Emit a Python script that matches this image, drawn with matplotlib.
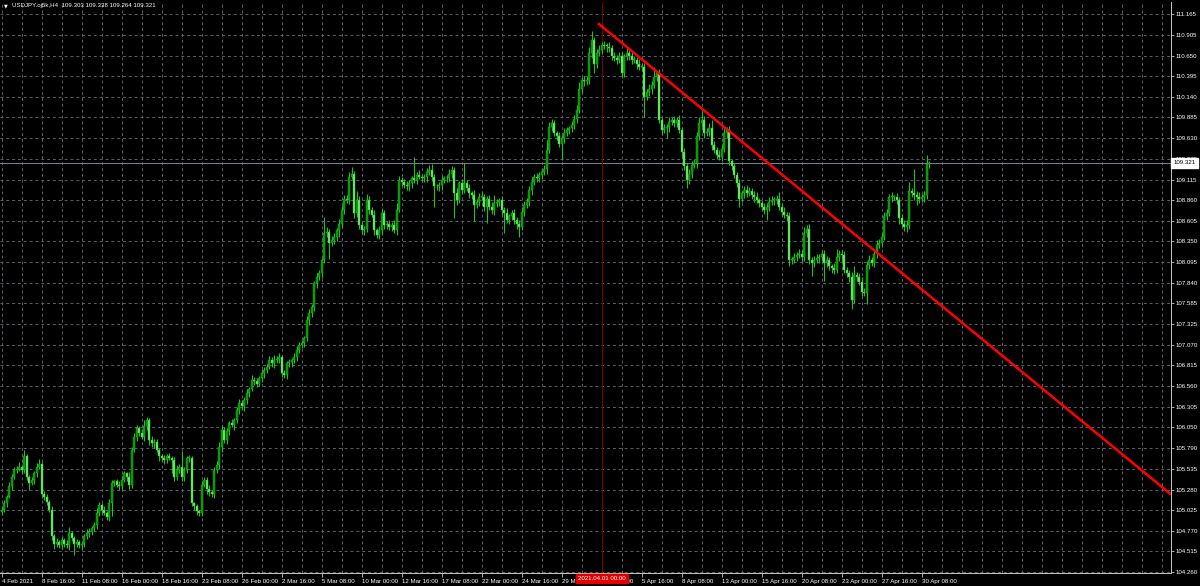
import numpy as np
import matplotlib
matplotlib.use("Agg")
import matplotlib.pyplot as plt
from matplotlib.transforms import blended_transform_factory

# ---- data (USDJPY H4, 4 Feb - 30 Apr 2021) ----
title_text = "USDJPY.oj5k,H4  109.303 109.338 109.264 109.321"
first_open = 105.00

closes_feb = [
    105.03, 105.11, 105.19, 105.32, 105.44, 105.52,
    105.54, 105.56, 105.52, 105.69, 105.44, 105.36,
    105.40, 105.48, 105.56, 105.60, 105.23, 105.19,
    105.13, 105.03, 104.70, 104.61, 104.63, 104.59,
    104.66, 104.61, 104.59, 104.74, 104.68, 104.61,
    104.63, 104.59, 104.61, 104.70, 104.74, 104.76,
    104.80, 104.84, 104.99, 105.09, 105.03, 104.99,
    104.94, 105.11, 105.36, 105.38, 105.34, 105.32,
    105.40, 105.48, 105.44, 105.34, 105.77, 105.93,
    106.04, 105.98, 105.93, 106.06, 106.14, 105.89,
    105.85, 105.87, 105.77, 105.69, 105.67, 105.65,
    105.69, 105.67, 105.65, 105.44, 105.52, 105.56,
    105.44, 105.52, 105.67, 105.67, 105.11, 105.07,
    105.01, 104.99, 105.34, 105.40, 105.29, 105.25,
    105.23, 105.52, 105.58, 105.81, 106.02, 105.89,
    106.00, 106.10, 106.08, 106.14, 106.26, 106.35,
    106.31, 106.39, 106.47, 106.53, 106.64, 106.62,
]
closes_mar = [
    106.59, 106.66, 106.72, 106.76, 106.80, 106.88,
    106.84, 106.88, 106.90, 106.92, 106.72, 106.70,
    106.84, 106.86, 106.88, 106.92, 107.01, 107.07,
    107.09, 107.15, 107.38, 107.46, 107.54, 107.83,
    107.91, 107.96, 108.12, 108.45, 108.47, 108.33,
    108.37, 108.41, 108.49, 108.57, 108.74, 108.88,
    108.86, 109.15, 109.19, 108.70, 108.86, 108.55,
    108.49, 108.51, 108.86, 108.74, 108.68, 108.49,
    108.43, 108.49, 108.70, 108.55, 108.57, 108.53,
    108.55, 108.49, 108.74, 109.11, 109.09, 109.05,
    109.03, 109.07, 109.13, 109.11, 109.17, 109.15,
    109.13, 109.15, 109.21, 109.23, 109.15, 109.03,
    109.03, 109.05, 109.11, 109.13, 109.13, 109.19,
    109.23, 108.95, 108.86, 109.07, 108.99, 109.07,
    109.01, 108.95, 108.93, 108.80, 108.84, 108.90,
    108.90, 108.78, 108.88, 108.78, 108.74, 108.82,
    108.84, 108.86, 108.74, 108.70, 108.62, 108.66,
    108.70, 108.62, 108.57, 108.53, 108.72, 108.80,
    108.84, 108.99, 109.09, 109.15, 109.13, 109.17,
    109.21, 109.25, 109.48, 109.77, 109.81, 109.69,
    109.65, 109.56, 109.63, 109.69, 109.73, 109.75,
    109.79, 109.87, 109.98, 110.24, 110.35, 110.33,
    110.35, 110.68, 110.84, 110.55, 110.68, 110.72,
]
closes_apr = [
    110.78, 110.77, 110.76, 110.74, 110.64, 110.62,
    110.60, 110.64, 110.43, 110.64, 110.68, 110.64,
    110.60, 110.60, 110.55, 110.51, 110.51, 110.14,
    110.20, 110.24, 110.29, 110.39, 110.43, 109.85,
    109.73, 109.75, 109.77, 109.83, 109.85, 109.81,
    109.85, 109.73, 109.46, 109.28, 109.11, 109.19,
    109.30, 109.32, 109.65, 109.81, 109.85, 109.69,
    109.71, 109.75, 109.54, 109.48, 109.42, 109.40,
    109.50, 109.69, 109.73, 109.34, 109.28, 109.17,
    109.07, 108.88, 108.95, 108.99, 108.95, 108.97,
    108.92, 108.90, 108.86, 108.82, 108.78, 108.74,
    108.78, 108.84, 108.86, 108.86, 108.88, 108.78,
    108.72, 108.68, 108.66, 108.12, 108.12, 108.16,
    108.18, 108.20, 108.16, 108.45, 108.51, 108.12,
    108.08, 108.12, 108.14, 108.16, 108.20, 108.08,
    108.12, 108.04, 108.02, 108.00, 108.16, 108.20,
    108.18, 108.00, 107.96, 107.91, 107.63, 107.93,
    107.91, 107.85, 107.73, 107.71, 108.06, 108.12,
    108.08, 108.20, 108.31, 108.33, 108.41, 108.66,
    108.70, 108.90, 108.90, 108.90, 108.86, 108.64,
    108.57, 108.53, 108.55, 108.97, 108.95, 108.92,
    108.90, 108.88, 108.90, 108.92, 109.303, 109.321,
]

# wick lengths beyond the body, in hundredths of a yen
upper_wick = [
    3, 4, 2, 5, 3, 4,   3, 6, 2, 8, 3, 2,   4, 3, 5, 6, 2, 3,   3, 2, 4, 3, 5, 2,
    3, 2, 4, 8, 3, 2,   4, 3, 2, 3, 5, 4,   3, 4, 6, 3, 2, 4,   3, 5, 4, 2, 3, 4,
    5, 3, 2, 6, 4, 5,   4, 3, 5, 8, 4, 3,   5, 3, 4, 2, 3, 4,   3, 4, 2, 3, 6, 3,
    20, 4, 3, 4, 3, 2,  3, 2, 5, 4, 3, 4,   2, 4, 5, 6, 5, 3,   4, 3, 5, 3, 4, 5,
    4, 3, 5, 2, 6, 3,   4, 3, 5, 4, 3, 5,   4, 6, 3, 5, 2, 4,   3, 4, 3, 5, 4, 3,
    4, 3, 5, 6, 4, 3,   5, 4, 3, 20, 6, 4,  5, 4, 3, 6, 5, 4,   4, 6, 8, 3, 12, 5,
    4, 3, 8, 5, 4, 6,   3, 5, 6, 4, 3, 5,   4, 6, 8, 5, 4, 3,   5, 4, 3, 26, 4, 6,
    4, 3, 5, 6, 8, 4,   3, 4, 5, 3, 4, 6,   5, 4, 6, 3, 5, 25,  4, 5, 3, 6, 4, 5,
    8, 4, 3, 5, 6, 10,  4, 3, 5, 4, 6, 3,   4, 5, 3, 4, 6, 5,   5, 4, 6, 3, 5, 4,
    4, 5, 12, 6, 5, 4,  3, 5, 4, 6, 4, 3,   5, 4, 6, 8, 4, 5,   5, 8, 12, 4, 5, 6,
    4, 5, 3, 6, 4, 5,   4, 6, 5, 3, 6, 4,   5, 4, 3, 6, 4, 5,   4, 6, 5, 12, 3, 5,
    4, 5, 3, 6, 4, 5,   4, 6, 3, 5, 4, 6,   4, 5, 6, 8, 12, 5,  4, 6, 10, 5, 4, 6,
    5, 6, 4, 5, 3, 4,   4, 5, 3, 4, 6, 5,   4, 5, 6, 3, 4, 5,   4, 6, 5, 4, 5, 8,
    4, 5, 3, 6, 4, 5,   4, 6, 5, 8, 4, 5,   4, 5, 6, 4, 5, 4,   5, 4, 3, 6, 10, 5,
    4, 5, 3, 4, 6, 12,  4, 5, 6, 4, 5, 6,   4, 5, 6, 5, 4, 6,   5, 4, 6, 3, 5, 4,
    5, 4, 6, 12, 4, 30, 5, 6, 4, 5, 12, 2,
]
lower_wick = [
    4, 3, 5, 2, 4, 3,   4, 3, 5, 3, 4, 8,   3, 5, 4, 3, 6, 4,   4, 3, 5, 6, 4, 3,
    5, 4, 3, 6, 4, 14,  4, 3, 6, 4, 3, 5,   4, 3, 5, 4, 6, 3,   4, 5, 16, 4, 3, 5,
    4, 3, 6, 5, 4, 3,   5, 4, 3, 5, 4, 6,   4, 5, 3, 6, 4, 5,   4, 3, 16, 5, 4, 3,
    6, 5, 4, 5, 3, 4,   5, 4, 4, 3, 6, 5,   4, 5, 3, 4, 6, 4,   5, 4, 3, 6, 4, 5,
    4, 6, 5, 4, 3, 5,   4, 3, 5, 6, 4, 3,   4, 5, 3, 6, 5, 4,   5, 4, 6, 3, 5, 4,
    4, 5, 3, 6, 4, 5,   5, 4, 6, 4, 5, 20,  4, 5, 6, 8, 4, 5,   4, 5, 3, 6, 5, 4,
    5, 6, 4, 5, 3, 6,   4, 5, 6, 4, 5, 4,   5, 4, 6, 3, 5, 4,   4, 5, 6, 4, 5, 3,
    4, 5, 6, 4, 5, 25,  4, 5, 6, 4, 5, 4,   5, 31, 6, 4, 5, 4,  4, 6, 5, 20, 4, 5,
    4, 5, 20, 4, 5, 6,  4, 5, 6, 25, 4, 5,  4, 5, 6, 12, 4, 5,  4, 5, 6, 4, 5, 4,
    5, 4, 6, 4, 5, 4,   5, 4, 20, 6, 4, 5,  4, 5, 6, 4, 5, 6,   4, 5, 6, 12, 5, 4,
    5, 4, 6, 4, 5, 4,   5, 4, 6, 4, 5, 4,   5, 4, 6, 4, 5, 25,  4, 5, 6, 4, 5, 4,
    5, 4, 12, 6, 4, 5,  5, 4, 6, 4, 10, 5,  5, 4, 6, 5, 4, 6,   4, 5, 6, 4, 5, 4,
    5, 4, 6, 4, 5, 4,   5, 10, 4, 6, 5, 4,  5, 6, 4, 5, 4, 5,   12, 5, 4, 6, 5, 4,
    5, 4, 6, 8, 5, 4,   5, 4, 6, 5, 4, 5,   16, 5, 4, 6, 5, 22, 5, 4, 6, 5, 4, 5,
    8, 4, 5, 6, 12, 4,  5, 4, 6, 4, 14, 5,  4, 5, 6, 4, 5, 4,   5, 4, 6, 4, 5, 8,
    4, 5, 6, 4, 5, 6,   10, 5, 4, 6, 5, 4,
]

last_price = 109.321
trend_bars = [238.5, 467.7]
trend_prices = [111.05, 105.22]
marker_bar = 240
marker_label = "2021.04.01 00:00"

x_labels = ["4 Feb 2021", "8 Feb 16:00", "11 Feb 08:00", "16 Feb 00:00", "18 Feb 16:00",
            "23 Feb 08:00", "26 Feb 00:00", "2 Mar 16:00", "5 Mar 08:00", "10 Mar 00:00",
            "12 Mar 16:00", "17 Mar 08:00", "22 Mar 00:00", "24 Mar 16:00", "29 Mar 08:00",
            "1 Apr 00:00", "5 Apr 16:00", "8 Apr 08:00", "13 Apr 00:00", "15 Apr 16:00",
            "20 Apr 08:00", "23 Apr 00:00", "27 Apr 16:00", "30 Apr 08:00"]
y_labels = ["111.165", "110.905", "110.650", "110.395", "110.140", "109.885", "109.630",
            "109.375", "109.115", "108.860", "108.605", "108.350", "108.095", "107.840",
            "107.585", "107.325", "107.070", "106.815", "106.560", "106.305", "106.050",
            "105.790", "105.535", "105.280", "105.025", "104.770", "104.515", "104.260"]

# ---- build candles ----
closes = np.array(closes_feb + closes_mar + closes_apr)
opens = np.concatenate([[first_open], closes[:-1]])
highs = np.maximum(opens, closes) + np.array(upper_wick) / 100.0
lows = np.minimum(opens, closes) - np.array(lower_wick) / 100.0
bars = np.arange(len(closes))
up = closes >= opens

plt.rcParams['font.family'] = ['Liberation Sans', 'DejaVu Sans']
FS = 4.4

fig = plt.figure(figsize=(12, 5.86), dpi=100, facecolor='black')
ax = fig.add_axes([0, 13 / 586, 1171 / 1200, 571 / 586], facecolor='black')

ax.set_xlim(-0.68, 467.7)
ax.set_ylim(104.247, 111.313)

# grid
grid_col = '#5a616a'
for lab in y_labels:
    ax.axhline(float(lab), color=grid_col, lw=0.7, ls=(0, (3, 3)), zorder=0)
for b in range(0, 468, 8):
    ax.axvline(b, color=grid_col, lw=0.7, ls=(0, (3, 3)), zorder=0)

# current price line and marker line
ax.axhline(last_price, color='#6f7f8f', lw=0.75, zorder=1)
ax.axvline(marker_bar, color='#7a0000', lw=0.7, zorder=1)

# candles
wick_col = '#1cc41c'
ax.vlines(bars, lows, highs, color=wick_col, lw=0.8, zorder=2)
body = np.where(np.abs(closes - opens) < 0.01, 0.01, closes - opens)
ax.bar(bars[up], body[up], bottom=opens[up], width=0.9,
       color='#089008', edgecolor=wick_col, linewidth=0.3, zorder=3)
ax.bar(bars[~up], body[~up], bottom=opens[~up], width=0.9,
       color='#7ee87e', edgecolor=wick_col, linewidth=0.3, zorder=3)

# trend line
ax.plot(trend_bars, trend_prices, color='#ff0000', lw=1.8, zorder=4,
        solid_capstyle='butt')

# axes decoration
for side in ['left', 'top']:
    ax.spines[side].set_visible(False)
for side in ['right', 'bottom']:
    ax.spines[side].set_color('#c0c0c0')
    ax.spines[side].set_linewidth(0.75)

ax.yaxis.tick_right()
ax.set_yticks([float(v) for v in y_labels])
ax.set_yticklabels(y_labels)
ax.set_xticks(np.arange(len(x_labels)) * 16)
ax.set_xticklabels(x_labels, ha='left')
ax.set_xticks(np.arange(0, 468, 8), minor=True)
ax.tick_params(axis='both', colors='#c8c8c8', labelcolor='white', labelsize=FS, width=0.6)
ax.tick_params(axis='y', length=2.5, pad=0.8)
ax.tick_params(axis='x', which='major', length=3, pad=1.2)
ax.tick_params(axis='x', which='minor', length=1.5, width=0.6)

# price tag on the right axis
ax.text(1.002, last_price, "109.321", transform=ax.get_yaxis_transform(),
        ha='left', va='center', fontsize=FS, color='black', zorder=10,
        bbox=dict(boxstyle='square,pad=0.35', fc='white', ec='white'), clip_on=False)

# time tag of the vertical marker line
ax.text(marker_bar, -0.0055, marker_label,
        transform=blended_transform_factory(ax.transData, ax.transAxes),
        ha='center', va='top', fontsize=FS, color='white', zorder=10,
        bbox=dict(boxstyle='square,pad=0.35', fc='#e00000', ec='#e00000'), clip_on=False)

# header
fig.text(4 / 1200, 1 - 6 / 586, "\u25bc", fontsize=3.5, color='white', va='center',
         family='DejaVu Sans')
fig.text(12 / 1200, 1 - 6 / 586, title_text, fontsize=FS, color='white', va='center')

fig.savefig('out.png', dpi=100, facecolor='black')
